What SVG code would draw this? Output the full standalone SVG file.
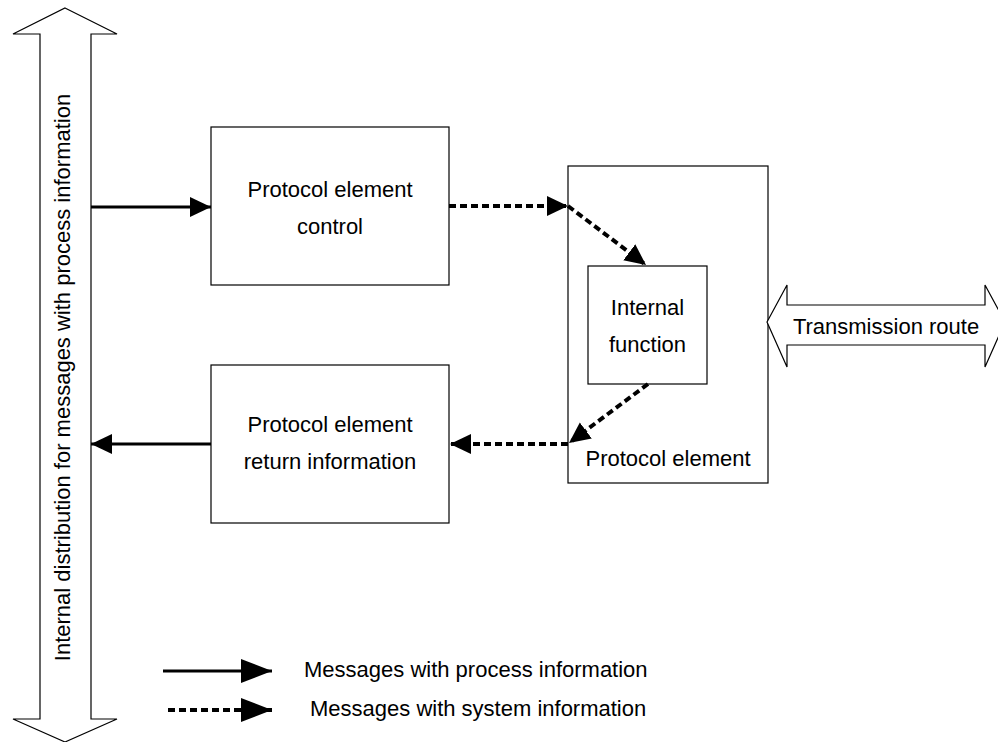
<svg xmlns="http://www.w3.org/2000/svg" width="998" height="742" viewBox="0 0 998 742">
<style>
.box{fill:#fff;stroke:#000;stroke-width:1.2}
.shape{fill:#fff;stroke:#000;stroke-width:1.2}
.t{font-family:"Liberation Sans",Arial,sans-serif;font-size:22px;fill:#000}
.solid{fill:none;stroke:#000;stroke-width:3}
.dash{fill:none;stroke:#000;stroke-width:4;stroke-dasharray:7 4}
</style>
<defs>
<marker id="ah" markerUnits="userSpaceOnUse" markerWidth="22" markerHeight="22" viewBox="0 0 22 22" refX="21" refY="11" orient="auto">
<path d="M0,1 L21,11 L0,21 z" fill="#000"/>
</marker>
<marker id="ahL" markerUnits="userSpaceOnUse" markerWidth="32" markerHeight="28" viewBox="0 0 32 28" refX="31" refY="14" orient="auto">
<path d="M0,2 L31,14 L0,26 z" fill="#000"/>
</marker>
</defs>

<g id="internal-distribution">
<polygon class="shape" points="65,8 117,34 91,34 91,719 117,719 65,742 13,719 40,719 40,34 13,34"/>
<text class="t" transform="translate(70,377.5) rotate(-90)" text-anchor="middle">Internal distribution for messages with process information</text>
</g>

<g id="pe-control">
<rect class="box" x="211" y="127" width="238" height="158"/>
<text class="t" x="330" y="197" text-anchor="middle">Protocol element</text>
<text class="t" x="330" y="234" text-anchor="middle">control</text>
</g>

<g id="pe-return">
<rect class="box" x="211" y="365" width="238" height="158"/>
<text class="t" x="330" y="432" text-anchor="middle">Protocol element</text>
<text class="t" x="330" y="469" text-anchor="middle">return information</text>
</g>

<g id="protocol-element">
<rect class="box" x="568" y="166" width="200" height="317"/>
<text class="t" x="668" y="466" text-anchor="middle">Protocol element</text>
</g>

<g id="internal-function">
<rect class="box" x="588" y="266" width="119" height="118"/>
<text class="t" x="647.5" y="315" text-anchor="middle">Internal</text>
<text class="t" x="647.5" y="352" text-anchor="middle">function</text>
</g>

<g id="transmission-route">
<polygon class="shape" points="767,322 787,285 787,305 985,305 985,285 1005,322 985,367 985,345 787,345 787,367"/>
<text class="t" x="886" y="334" text-anchor="middle">Transmission route</text>
</g>

<g id="connectors">
<line class="solid" x1="91" y1="207" x2="211" y2="207" marker-end="url(#ah)"/>
<line class="dash" x1="449" y1="206" x2="568" y2="206" marker-end="url(#ah)"/>
<line class="dash" x1="568" y1="206" x2="646" y2="265" marker-end="url(#ah)"/>
<line class="dash" x1="648" y1="384" x2="569" y2="443" marker-end="url(#ah)"/>
<line class="dash" x1="568" y1="444" x2="450" y2="444" marker-end="url(#ah)"/>
<line class="solid" x1="211" y1="444" x2="91" y2="444" marker-end="url(#ah)"/>
</g>

<g id="legend">
<line class="solid" x1="163" y1="671" x2="272" y2="671" marker-end="url(#ahL)"/>
<line class="dash" x1="168" y1="710" x2="272" y2="710" marker-end="url(#ahL)"/>
<text class="t" x="304" y="677">Messages with process information</text>
<text class="t" x="310" y="716">Messages with system information</text>
</g>
</svg>
